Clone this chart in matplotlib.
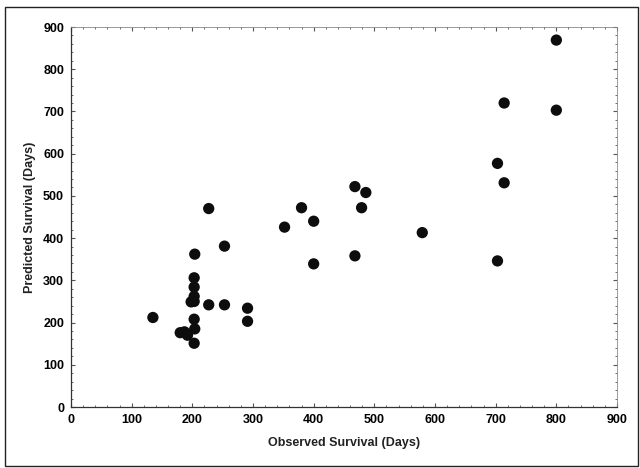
import numpy as np
import matplotlib.pyplot as plt
from matplotlib.patches import Rectangle
from matplotlib.ticker import MultipleLocator

plt.rcParams['font.family'] = ['Liberation Sans', 'DejaVu Sans']

# observed vs predicted survival (days)
observed = [135, 180, 187, 192, 198, 203, 204, 203, 203, 203, 203, 203, 204, 227, 227,
            253, 253, 291, 291, 352, 380, 400, 400, 468, 468, 479, 486, 579,
            703, 703, 714, 714, 800, 800]
predicted = [212, 176, 178, 170, 249, 151, 185, 208, 250, 262, 284, 306, 362, 242, 470,
             242, 381, 234, 203, 426, 472, 440, 339, 522, 358, 472, 508, 413,
             577, 346, 531, 720, 869, 703]

fig = plt.figure(figsize=(6.4, 4.68), dpi=100)
ax = fig.add_axes([71/640, 61/468, 546/640, 380/468])

ax.scatter(observed, predicted, s=66, color='#0d0d0d', edgecolors='none', zorder=3)

ax.set_xlim(0, 900)
ax.set_ylim(0, 900)
ax.xaxis.set_major_locator(MultipleLocator(100))
ax.yaxis.set_major_locator(MultipleLocator(100))
ax.xaxis.set_minor_locator(MultipleLocator(20))
ax.yaxis.set_minor_locator(MultipleLocator(20))
ax.tick_params(which='both', direction='in', top=True, right=True, color='#555555')
ax.tick_params(which='major', length=3, width=0.8, labelsize=9, pad=5)
ax.tick_params(which='minor', length=1.5, width=0.6)
for lab in ax.get_xticklabels() + ax.get_yticklabels():
    lab.set_fontweight('bold')

for side in ['top', 'right']:
    ax.spines[side].set_color('#888888')
    ax.spines[side].set_linewidth(0.6)
for side in ['left', 'bottom']:
    ax.spines[side].set_color('#333333')
    ax.spines[side].set_linewidth(0.9)

ax.set_xlabel('Observed Survival (Days)', fontsize=9, fontweight='bold', color='#222222', labelpad=8)
ax.set_ylabel('Predicted Survival (Days)', fontsize=9, fontweight='bold', color='#222222', labelpad=5)

# outer frame around the whole figure
fig.patches.append(Rectangle((5/640, 2/468), 633/640, 459/468, transform=fig.transFigure,
                             fill=False, edgecolor='#222222', linewidth=1.0))

plt.savefig('out.png', dpi=100)
